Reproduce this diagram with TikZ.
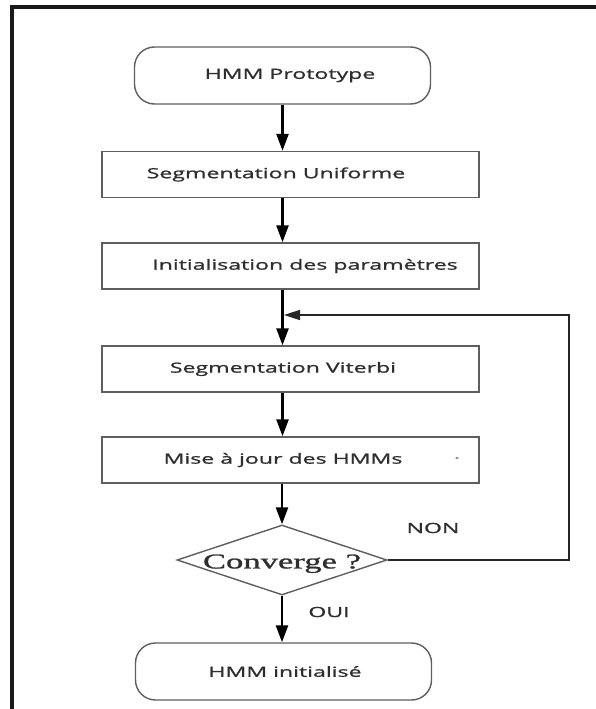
\documentclass[tikz,border=0pt]{standalone}
\usepackage{fontspec}
\setmainfont{Open Sans}[FakeStretch=1.65,FakeBold=1.2]
\newfontfamily\serifwide{Liberation Serif}[FakeStretch=1.65,FakeBold=1.2]
\usetikzlibrary{arrows.meta,shapes.geometric}
\definecolor{boxgray}{HTML}{5E5E5E}
\definecolor{txtcol}{HTML}{2E2E2E}
\begin{document}
\begin{tikzpicture}[x=1pt,y=-1pt,
  txt/.style={font=\fontsize{14}{16}\selectfont, text=txtcol},
  box/.style={txt, draw=boxgray, line width=1.4pt, inner sep=0pt,
    minimum width=377pt, minimum height=46pt},
  term/.style={box, rounded corners=20pt, minimum width=296pt, minimum height=57pt},
  dec/.style={diamond, draw=boxgray, line width=1.4pt, inner sep=0pt,
    minimum width=210pt, minimum height=70pt, text=txtcol,
    font=\serifwide\fontsize{21}{24}\selectfont},
  flow/.style={draw=black, line width=2.5pt, -{Triangle[length=17pt,width=12pt]}},
  back/.style={draw=black!85, line width=1.6pt, -{Triangle[length=16pt,width=10pt]}},
  frame/.style={draw=black!90, line width=3.2pt}
]
\useasboundingbox (0,0) rectangle (596,709);
\draw[frame] (12,715) -- (12,7) -- (602,7);

\node[term] (proto) at (282.5,75.5) {\hspace*{15pt}HMM Prototype};
\node[box]  (uni)   at (290.5,174.5) {\hspace*{-29pt}Segmentation Uniforme};
\node[box]  (init)  at (290.5,266) {\hspace*{29pt}Initialisation des paramètres};
\node[box]  (vit)   at (290.5,369) {\hspace*{-15pt}Segmentation Viterbi};
\node[box]  (mise)  at (290.5,460) {\hspace*{-15pt}Mise à jour des HMMs};
\node[txt, text=black!45, inner sep=0pt] (dot) at (457,458) {.};
\node[dec]  (conv)  at (282,560) {\makebox[0pt][c]{\smash{\raisebox{-0.4em}{Converge ?}}}};
\node[term] (fin)   at (283.5,671.5) {\hspace*{3pt}HMM initialisé};

\node[txt, inner sep=0pt] (non) at (433,528) {NON};
\node[txt, inner sep=0pt] (oui) at (329,612) {OUI};

\coordinate (rt) at (569,315);
\coordinate (j) at (284,315);

\draw[flow] (proto.south) -- (proto.south |- uni.north);
\draw[flow] (proto.south |- uni.south) -- (proto.south |- init.north);
\draw[flow] (proto.south |- init.south) -- (proto.south |- vit.north);
\draw[flow] (proto.south |- vit.south) -- (proto.south |- mise.north);
\draw[flow] (conv.north |- mise.south) -- (conv.north);
\draw[flow] (conv.south) -- (conv.south |- fin.north);
\draw[back] (conv.east) -- (conv.east -| rt) -- (rt) -- (j);
\end{tikzpicture}
\end{document}
